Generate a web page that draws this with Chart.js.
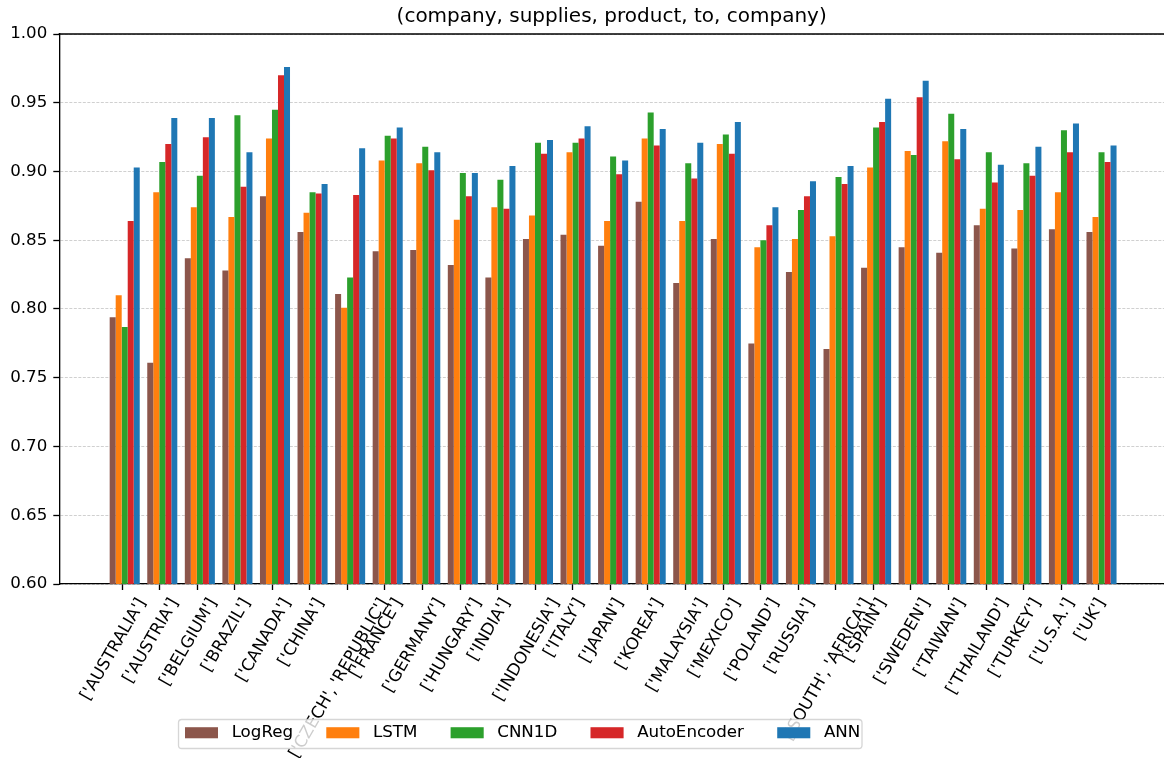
<!DOCTYPE html>
<html>
<head>
<meta charset="utf-8">
<script src="https://cdn.jsdelivr.net/npm/chart.js@4.4.1/dist/chart.umd.min.js"></script>
<style>
  html, body { margin: 0; padding: 0; background: #fff; }
  #wrap { width: 1164px; height: 758px; }
</style>
</head>
<body>
<div id="wrap"><canvas id="chart"></canvas></div>
<script>
const countries = [
  "['AUSTRALIA']", "['AUSTRIA']", "['BELGIUM']", "['BRAZIL']", "['CANADA']",
  "['CHINA']", "['CZECH', 'REPUBLIC']", "['FRANCE']", "['GERMANY']", "['HUNGARY']",
  "['INDIA']", "['INDONESIA']", "['ITALY']", "['JAPAN']", "['KOREA']",
  "['MALAYSIA']", "['MEXICO']", "['POLAND']", "['RUSSIA']", "['SOUTH', 'AFRICA']",
  "['SPAIN']", "['SWEDEN']", "['TAIWAN']", "['THAILAND']", "['TURKEY']",
  "['U.S.A.']", "['UK']",
];

const logReg = [
  0.794, 0.761, 0.837, 0.828, 0.882, 0.856, 0.811, 0.842, 0.843, 0.832,
  0.823, 0.851, 0.854, 0.846, 0.878, 0.819, 0.851, 0.775, 0.827, 0.771,
  0.830, 0.845, 0.841, 0.861, 0.844, 0.858, 0.856,
];
const lstm = [
  0.810, 0.885, 0.874, 0.867, 0.924, 0.870, 0.801, 0.908, 0.906, 0.865,
  0.874, 0.868, 0.914, 0.864, 0.924, 0.864, 0.920, 0.845, 0.851, 0.853,
  0.903, 0.915, 0.922, 0.873, 0.872, 0.885, 0.867,
];
const cnn1d = [
  0.787, 0.907, 0.897, 0.941, 0.945, 0.885, 0.823, 0.926, 0.918, 0.899,
  0.894, 0.921, 0.921, 0.911, 0.943, 0.906, 0.927, 0.850, 0.872, 0.896,
  0.932, 0.912, 0.942, 0.914, 0.906, 0.930, 0.914,
];
const autoEncoder = [
  0.864, 0.920, 0.925, 0.889, 0.970, 0.884, 0.883, 0.924, 0.901, 0.882,
  0.873, 0.913, 0.924, 0.898, 0.919, 0.895, 0.913, 0.861, 0.882, 0.891,
  0.936, 0.954, 0.909, 0.892, 0.897, 0.914, 0.907,
];
const ann = [
  0.903, 0.939, 0.939, 0.914, 0.976, 0.891, 0.917, 0.932, 0.914, 0.899,
  0.904, 0.923, 0.933, 0.908, 0.931, 0.921, 0.936, 0.874, 0.893, 0.904,
  0.953, 0.966, 0.931, 0.905, 0.918, 0.935, 0.919,
];

const seriesNames = ['LogReg', 'LSTM', 'CNN1D', 'AutoEncoder', 'ANN'];
const seriesData = [logReg, lstm, cnn1d, autoEncoder, ann];
const seriesColors = ['#8c564b', '#ff7f0e', '#2ca02c', '#d62728', '#1f77b4'];

const FONT = 'DejaVu Sans';
const LEG_PAD = 33.3;

Chart.defaults.font.family = FONT;
Chart.defaults.font.size = 16.67;
Chart.defaults.color = '#000';

// matplotlib-ish bits: centred rotated tick labels, top spine, framed legend
const mplLook = {
  id: 'mplLook',
  afterLayout(chart) {
    // legend takes no layout space; park it over the tick labels like the original
    const lg = chart.legend;
    lg.left = 185 - LEG_PAD;
    lg.right = chart.width;
    lg.top = 724.5 - LEG_PAD;
    lg.bottom = lg.top + 70;
  },
  beforeDraw(chart) {
    const items = chart.scales.x.getLabelItems();
    if (items._shifted) return;
    const ctx = chart.ctx;
    items.forEach(it => {
      ctx.save();
      ctx.font = it.font.string;
      const w = ctx.measureText(it.label).width;
      ctx.restore();
      it.options.translation[0] += 0.25 * w - 8.4;
    });
    items._shifted = true;
  },
  afterDraw(chart) {
    const { ctx, chartArea: a } = chart;
    ctx.save();
    ctx.strokeStyle = '#000';
    ctx.lineWidth = 1.33;
    ctx.beginPath();
    ctx.moveTo(a.left - 0.7, a.top);
    ctx.lineTo(a.right, a.top);
    ctx.stroke();

    ctx.beginPath();
    if (ctx.roundRect) ctx.roundRect(178.5, 719.5, 683.5, 29, 3.3);
    else ctx.rect(178.5, 719.5, 683.5, 29);
    ctx.fillStyle = 'rgba(255,255,255,0.8)';
    ctx.fill();
    ctx.strokeStyle = 'rgba(204,204,204,0.8)';
    ctx.lineWidth = 1.3;
    ctx.stroke();
    ctx.restore();
    chart.legend.draw();
  },
};

const ctx = document.getElementById('chart').getContext('2d');

new Chart(ctx, {
  type: 'bar',
  data: {
    datasets: seriesNames.map((name, k) => ({
      label: name,
      data: seriesData[k].map((v, i) => ({ x: i, y: v })),
      backgroundColor: seriesColors[k],
      borderWidth: 0,
      categoryPercentage: 0.8,
      barPercentage: 1.0,
    })),
  },
  options: {
    responsive: true,
    maintainAspectRatio: false,
    animation: false,
    layout: { padding: 0 },
    scales: {
      x: {
        type: 'linear',
        min: -1.741,
        max: 27.663,
        offset: false,
        afterBuildTicks: (s) => {
          s.ticks = countries.map((_, i) => ({ value: i - 0.072 }));
        },
        afterFit: (s) => {
          s.height = 174 - s.chart.legend.height;
        },
        grid: {
          offset: false,
          drawOnChartArea: false,
          drawTicks: true,
          tickLength: 6,
          tickColor: '#000',
          tickWidth: 1.33,
        },
        border: { display: true, color: '#000', width: 1.33 },
        ticks: {
          autoSkip: false,
          minRotation: 60,
          maxRotation: 60,
          padding: 5,
          color: '#000',
          font: { size: 16.67 },
          callback: (v, i) => countries[i],
        },
      },
      y: {
        min: 0.6,
        max: 1.0,
        afterFit: (s) => {
          s.width = 59.3;
        },
        grid: {
          color: 'rgba(176,176,176,0.75)',
          lineWidth: 0.8,
          drawTicks: true,
          tickLength: 6,
          tickColor: '#000',
          tickWidth: 1.33,
          tickBorderDash: [],
        },
        border: { display: true, color: '#000', width: 1.33, dash: [3, 1.5] },
        ticks: {
          stepSize: 0.05,
          padding: 6,
          color: '#000',
          font: { size: 16.67 },
          callback: (v) => v.toFixed(2),
        },
      },
    },
    plugins: {
      title: {
        display: true,
        text: '(company, supplies, product, to, company)',
        fullSize: false,
        color: '#000',
        font: { size: 20, weight: 'normal' },
        padding: { top: 5, bottom: 5 },
      },
      legend: {
        position: 'bottom',
        align: 'start',
        maxHeight: 0.001,
        labels: {
          boxWidth: 33,
          boxHeight: 11,
          padding: LEG_PAD,
          color: '#000',
          font: { size: 16.67 },
          generateLabels: (chart) =>
            Chart.defaults.plugins.legend.labels.generateLabels(chart).map((it) => {
              it.text = ' ' + it.text;
              return it;
            }),
        },
      },
      tooltip: { enabled: false },
    },
  },
  plugins: [mplLook],
});
</script>
</body>
</html>
